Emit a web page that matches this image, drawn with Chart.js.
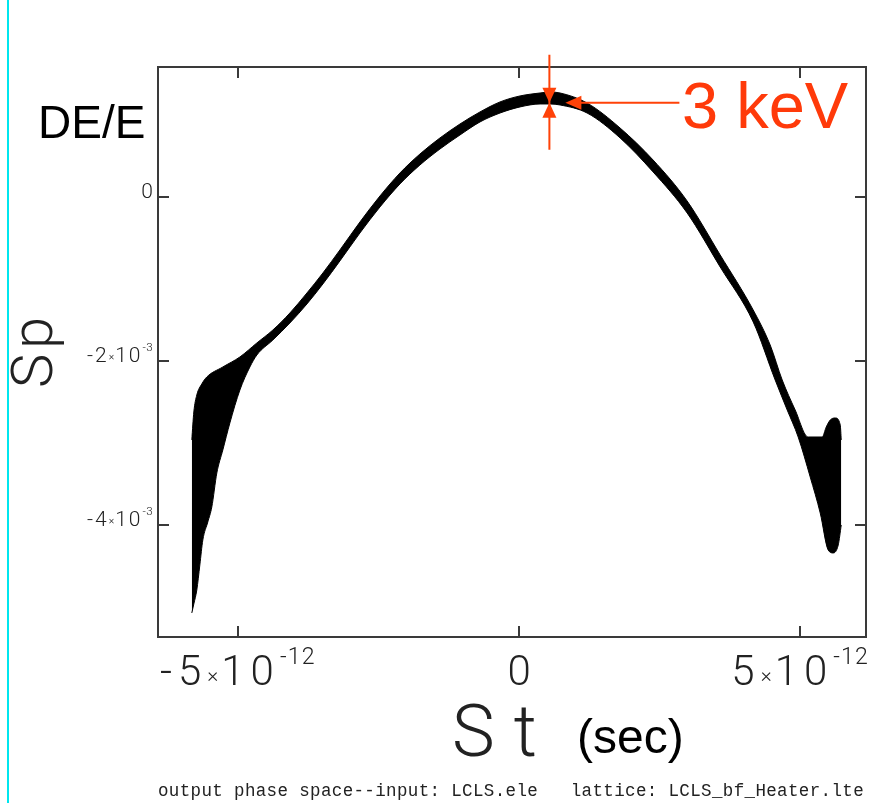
<!DOCTYPE html>
<html>
<head>
<meta charset="utf-8">
<title>Sp vs St</title>
<script src="https://cdn.jsdelivr.net/npm/chart.js@4"></script>
<style>
  body { margin: 0; background: #fff; }
  #wrap { position: relative; width: 877px; height: 803px; }
  #edge { position: absolute; left: 7px; top: 0; width: 2px; height: 803px; background: #00e6ee; }
</style>
</head>
<body>
<div id="wrap">
  <canvas id="chart1" width="877" height="803"></canvas>
  <div id="edge"></div>
</div>
<script>
// St in units of 1e-12 s, Sp in units of 1e-3
const tUpper = [-5.819, -5.783, -5.730, -5.641, -5.552, -5.267, -4.964, -4.662, -4.377, -4.075,
  -3.772, -3.488, -3.185, -2.829, -2.473, -2.117, -1.762, -1.406, -1.050, -0.694,
  -0.338, 0.018, 0.374, 0.552, 0.730, 1.210, 1.797, 2.384, 2.989, 3.577,
  4.164, 4.466, 4.680, 4.911, 5.142, 5.391, 5.463, 5.534, 5.623, 5.712, 5.730];
const spUpper = [-2.963, -2.622, -2.415, -2.280, -2.195, -2.073, -1.951, -1.780, -1.622, -1.415,
  -1.171, -0.927, -0.646, -0.305, 0.012, 0.293, 0.524, 0.720, 0.890, 1.037,
  1.159, 1.232, 1.268, 1.280, 1.268, 1.146, 0.841, 0.451, -0.049, -0.707,
  -1.378, -1.805, -2.232, -2.598, -2.927, -2.927, -2.805, -2.720, -2.695, -2.780, -2.963];

const tLower = [-5.819, -5.783, -5.730, -5.676, -5.623, -5.534, -5.463, -5.374, -5.267, -5.142,
  -4.964, -4.786, -4.662, -4.377, -4.075, -3.772, -3.488, -3.185, -2.829, -2.473,
  -2.117, -1.762, -1.406, -1.050, -0.694, -0.338, 0.018, 0.374, 0.552, 0.730,
  1.210, 1.797, 2.384, 2.989, 3.577, 4.164, 4.555, 4.769, 4.964, 5.178,
  5.356, 5.498, 5.587, 5.676, 5.730];
const spLower = [-5.073, -4.963, -4.793, -4.488, -4.183, -3.963, -3.780, -3.366, -3.085, -2.756,
  -2.354, -2.073, -1.927, -1.744, -1.537, -1.305, -1.061, -0.780, -0.439, -0.122,
  0.159, 0.390, 0.585, 0.756, 0.915, 1.024, 1.098, 1.134, 1.134, 1.122,
  1.024, 0.720, 0.305, -0.195, -0.854, -1.524, -2.232, -2.598, -2.927, -3.415,
  -3.854, -4.305, -4.341, -4.244, -4.000];

const xTicks = [-5, 0, 5];
const xTickLabels = ['-5×10^-12', '0', '5×10^-12'];
const yTicks = [0, -2, -4];
const yTickLabels = ['0', '-2×10^-3', '-4×10^-3'];

// where the 3 keV spread is marked on the bunch
const markT = 0.54;
const markSp = 1.15;

const orange = '#ff4208';
const thinFont = 'Roboto, Lato, sans-serif';

function toPoints(xs, ys) {
  return xs.map((x, i) => ({ x: x, y: ys[i] }));
}

// draws "a×10^b" with a small × and a raised exponent
function drawPower(ctx, label, x, y, size, align, spacing) {
  const pieces = [];
  const m = label.split('^');
  if (m.length > 1) {
    const base = m[0].split('×');
    pieces.push({ text: base[0], size: size, dy: 0, sp: spacing });
    pieces.push({ text: '×', size: size * 0.5, dy: -size * 0.08, sp: spacing * 0.5 });
    pieces.push({ text: base[1], size: size, dy: 0, sp: spacing });
    pieces.push({ text: m[1], size: size * 0.55, dy: -size * 0.5, sp: spacing * 0.2 });
  } else {
    pieces.push({ text: label, size: size, dy: 0, sp: 0 });
  }
  let total = 0;
  pieces.forEach((p) => {
    ctx.font = '300 ' + p.size + 'px ' + thinFont;
    ctx.letterSpacing = p.sp + 'px';
    p.w = ctx.measureText(p.text).width;
    total += p.w;
  });
  let cx = align === 'center' ? x - total / 2 : x - total;
  ctx.textAlign = 'left';
  ctx.textBaseline = 'alphabetic';
  pieces.forEach((p) => {
    ctx.font = '300 ' + p.size + 'px ' + thinFont;
    ctx.letterSpacing = p.sp + 'px';
    ctx.fillText(p.text, cx, y + p.dy);
    cx += p.w;
  });
  ctx.letterSpacing = '0px';
}

function arrowHead(ctx, tipX, tipY, dx, dy, len, half) {
  // dx,dy: unit direction the arrow points to
  const bx = tipX - dx * len, by = tipY - dy * len;
  ctx.beginPath();
  ctx.moveTo(tipX, tipY);
  ctx.lineTo(bx - dy * half, by + dx * half);
  ctx.lineTo(bx + dy * half, by - dx * half);
  ctx.closePath();
  ctx.fill();
}

// stretch a string to a given width with letter spacing
function fitText(ctx, text, x, y, width) {
  ctx.letterSpacing = '0px';
  const w = ctx.measureText(text).width;
  ctx.letterSpacing = ((width - w) / text.length) + 'px';
  ctx.fillText(text, x, y);
  ctx.letterSpacing = '0px';
}

const framePlugin = {
  id: 'frame',
  afterDraw(chart) {
    const ctx = chart.ctx;
    const a = chart.chartArea;
    const sx = chart.scales.x, sy = chart.scales.y;
    ctx.save();

    // box and inward ticks
    ctx.strokeStyle = '#3a3a3a';
    ctx.lineWidth = 2;
    ctx.strokeRect(a.left, a.top, a.right - a.left, a.bottom - a.top);
    ctx.beginPath();
    xTicks.forEach((v) => {
      const px = Math.round(sx.getPixelForValue(v));
      ctx.moveTo(px, a.bottom); ctx.lineTo(px, a.bottom - 11);
      ctx.moveTo(px, a.top); ctx.lineTo(px, a.top + 11);
    });
    yTicks.forEach((v) => {
      const py = Math.round(sy.getPixelForValue(v));
      ctx.moveTo(a.left, py); ctx.lineTo(a.left + 11, py);
      ctx.moveTo(a.right, py); ctx.lineTo(a.right - 11, py);
    });
    ctx.stroke();

    // tick labels
    ctx.fillStyle = '#222';
    xTicks.forEach((v, i) => {
      drawPower(ctx, xTickLabels[i], sx.getPixelForValue(v), a.bottom + 48, 42, 'center', 6);
    });
    yTicks.forEach((v, i) => {
      drawPower(ctx, yTickLabels[i], a.left - 5, sy.getPixelForValue(v) + 1, 21, 'right', 2);
    });

    // axis names
    ctx.textAlign = 'left';
    ctx.font = '300 72px ' + thinFont;
    fitText(ctx, 'St', 452, 756, 104);
    ctx.save();
    ctx.translate(52, 388);
    ctx.rotate(-Math.PI / 2);
    ctx.font = '300 58px ' + thinFont;
    fitText(ctx, 'Sp', 0, 0, 76);
    ctx.restore();

    ctx.fillStyle = '#000';
    ctx.font = '46px "Liberation Sans", Arial, sans-serif';
    ctx.fillText('DE/E', 38, 138);
    ctx.font = '48px "Liberation Sans", Arial, sans-serif';
    ctx.fillText('(sec)', 577, 753);

    ctx.fillStyle = '#222';
    ctx.font = '17.5px "Liberation Mono", "DejaVu Sans Mono", monospace';
    fitText(ctx, 'output phase space--input: LCLS.ele   lattice: LCLS_bf_Heater.lte', 158, 796, 706);

    // energy spread marker
    const mx = sx.getPixelForValue(markT);
    const my = sy.getPixelForValue(markSp);
    ctx.strokeStyle = orange;
    ctx.fillStyle = orange;
    ctx.lineWidth = 2;
    ctx.beginPath();
    ctx.moveTo(mx, my - 48); ctx.lineTo(mx, my + 47);
    ctx.moveTo(mx + 30, my); ctx.lineTo(mx + 130, my);
    ctx.stroke();
    arrowHead(ctx, mx, my, 0, 1, 15, 7);
    arrowHead(ctx, mx, my, 0, -1, 15, 7);
    arrowHead(ctx, mx + 16, my, -1, 0, 16, 7);
    ctx.font = '65px "Liberation Sans", Arial, sans-serif';
    ctx.fillStyle = '#ff3a0a';
    ctx.fillText('3 keV', 682, 128);

    ctx.restore();
  }
};

const ctx1 = document.getElementById('chart1');
const chartPhase = new Chart(ctx1, {
  type: 'scatter',
  data: {
    datasets: [{
      label: 'upper',
      data: toPoints(tUpper, spUpper),
      showLine: true,
      borderColor: '#000',
      borderWidth: 1,
      pointRadius: 0,
      cubicInterpolationMode: 'monotone',
      fill: false,
    }, {
      label: 'lower',
      data: toPoints(tLower, spLower),
      showLine: true,
      borderColor: '#000',
      borderWidth: 1,
      pointRadius: 0,
      cubicInterpolationMode: 'monotone',
      backgroundColor: '#000',
      fill: '-1',
    }],
  },
  options: {
    responsive: false,
    animation: false,
    events: [],
    layout: { padding: { left: 158, right: 11, top: 67, bottom: 166 } },
    scales: {
      x: { type: 'linear', min: -6.42, max: 6.17, display: false },
      y: { type: 'linear', min: -5.366, max: 1.585, display: false },
    },
    plugins: {
      legend: { display: false },
      tooltip: { enabled: false },
    },
  },
  plugins: [framePlugin],
});
</script>
</body>
</html>
